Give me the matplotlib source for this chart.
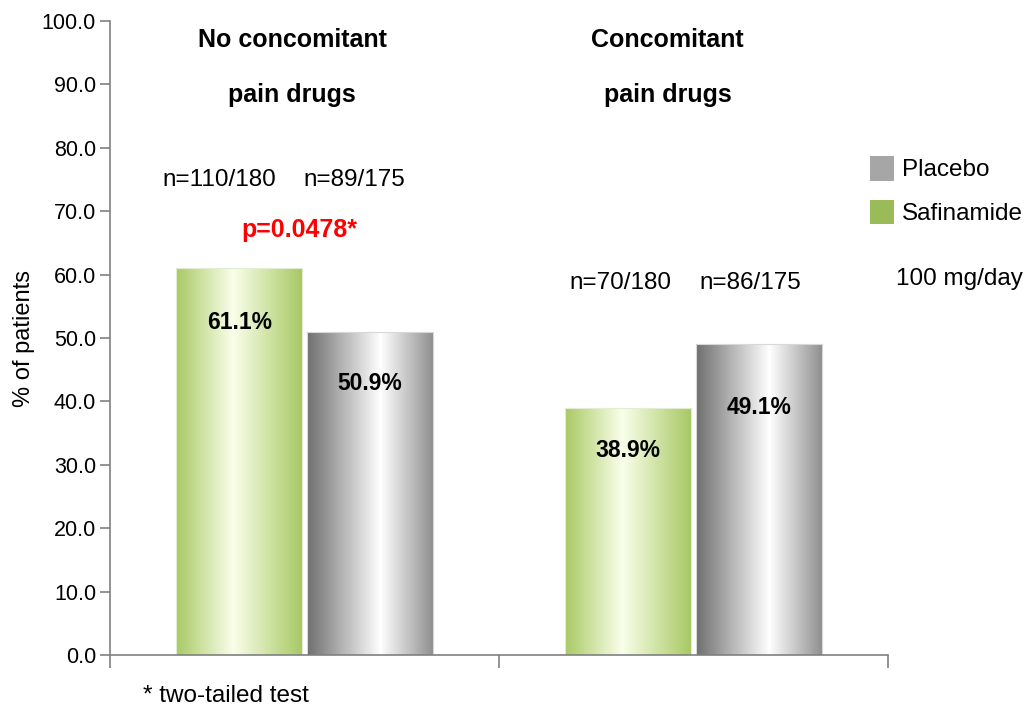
import numpy as np
import matplotlib
matplotlib.use("Agg")
import matplotlib.pyplot as plt
from matplotlib.colors import LinearSegmentedColormap
from matplotlib.patches import Patch

plt.rcParams['font.family'] = ['Liberation Sans', 'DejaVu Sans']

# data
groups = ['No concomitant\n\npain drugs', 'Concomitant\n\npain drugs']
safinamide = [61.1, 38.9]
placebo = [50.9, 49.1]
n_safi = ['n=110/180', 'n=70/180']
n_plac = ['n=89/175', 'n=86/175']
p_text = 'p=0.0478*'

green_cmap = LinearSegmentedColormap.from_list(
    'g', [(0, '#a9c964'), (0.45, '#f9ffea'), (1, '#a7c862')])
grey_cmap = LinearSegmentedColormap.from_list(
    'k', [(0, '#6f6f6f'), (0.58, '#ffffff'), (1, '#8e8e8e')])

fig = plt.figure(figsize=(10.29, 7.05), dpi=100)
ax = fig.add_axes([0.1069, 0.0709, 0.7561, 0.8993])

x = np.arange(len(groups))
w = 0.324
off = 0.168
b1 = ax.bar(x - off, safinamide, w, facecolor='none', edgecolor='#e4ecd4', lw=0.8, zorder=2)
b2 = ax.bar(x + off, placebo, w, facecolor='none', edgecolor='#d8d8d8', lw=0.8, zorder=2)

grad = np.linspace(0, 1, 256).reshape(1, -1)
for bars, cmap in [(b1, green_cmap), (b2, grey_cmap)]:
    for b in bars:
        x0, h = b.get_x(), b.get_height()
        im = ax.imshow(grad, cmap=cmap, aspect='auto', zorder=1,
                       extent=[x0, x0 + b.get_width(), 0, h])
        im.set_clip_path(b)

# value labels inside bars (drop below the bar top, per bar)
drop_safi = [8.6, 6.7]
drop_plac = [8.0, 10.0]
for bars, vals, drops in [(b1, safinamide, drop_safi), (b2, placebo, drop_plac)]:
    for b, v, d in zip(bars, vals, drops):
        ax.text(b.get_x() + b.get_width() / 2, v - d, f'{v:.1f}%',
                ha='center', va='center', fontsize=16.5, fontweight='bold', zorder=3)

# group titles and n labels
title_shift = [-0.032, -0.067]
for i, g in enumerate(groups):
    a, b = g.split('\n\n')
    ax.text(i + title_shift[i], 97.0, a, ha='center', va='center', fontsize=18, fontweight='bold')
    ax.text(i + title_shift[i], 88.3, b, ha='center', va='center', fontsize=18, fontweight='bold')

n_y = [74.9, 58.7]
shift_safi = [-0.052, -0.021]
shift_plac = [-0.041, -0.023]
for i in range(len(groups)):
    ax.text(x[i] - off + shift_safi[i], n_y[i], n_safi[i], ha='center', va='center', fontsize=17.5)
    ax.text(x[i] + off + shift_plac[i], n_y[i], n_plac[i], ha='center', va='center', fontsize=17.5)

ax.text(x[0] - 0.012, 67.0, p_text, ha='center', va='center', fontsize=18,
        fontweight='bold', color='#ff0000')

ax.set_xlim(-0.5, 1.5)
ax.set_ylim(0, 100)
ax.set_yticks(np.arange(0, 101, 10))
ax.set_yticklabels([f'{t:.1f}' for t in np.arange(0, 101, 10)])
ax.set_xticks([-0.5, 0.5, 1.5])
ax.set_xticklabels([])
ax.tick_params(axis='y', direction='out', length=7, width=1.2, color='#808080',
               labelsize=15.5, pad=3)
ax.tick_params(axis='x', direction='out', length=9, width=1.2, color='#808080')
for s in ['top', 'right']:
    ax.spines[s].set_visible(False)
for s in ['left', 'bottom']:
    ax.spines[s].set_color('#808080')
    ax.spines[s].set_linewidth(1.2)
ax.set_ylabel('% of patients', fontsize=17, labelpad=5)

handles = [Patch(facecolor='#a6a6a6', edgecolor='none', label='Placebo'),
           Patch(facecolor='#9bbb59', edgecolor='none', label='Safinamide')]
fig.legend(handles=handles, loc='upper left', bbox_to_anchor=(0.836, 0.793),
           frameon=False, fontsize=17.5, handlelength=1.0, handleheight=1.2,
           handletextpad=0.3, labelspacing=0.75, borderaxespad=0)
fig.text(0.871, 0.604, '100 mg/day', fontsize=17.5, ha='left', va='center')
fig.text(0.139, 0.0128, '* two-tailed test', fontsize=17.5, ha='left', va='center')

fig.savefig('out.png', dpi=100)
